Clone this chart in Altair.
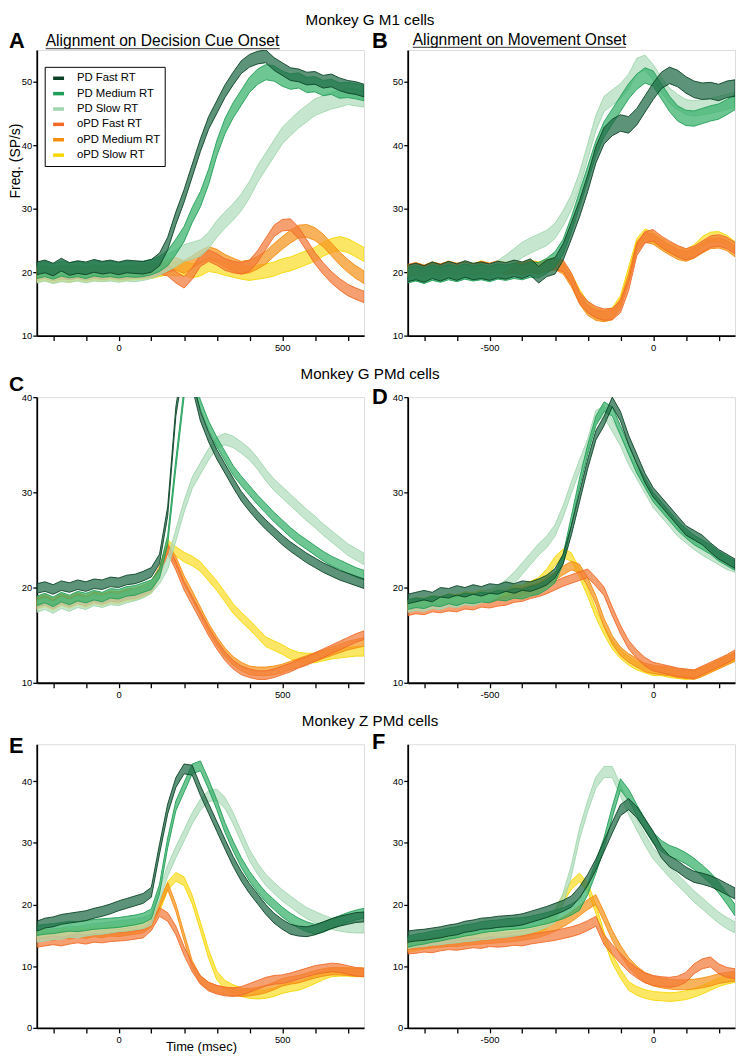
import altair as alt
import pandas as pd

FONT = "Liberation Sans"

SERIES = ["PD Fast RT", "PD Medium RT", "PD Slow RT", "oPD Fast RT", "oPD Medium RT", "oPD Slow RT"]
FILLS = ["#1e6b45", "#36b06a", "#b0dcbc", "#f27a3a", "#f7941d", "#fbdd2a"]
STROKES = ["#0b4226", "#1f9e57", "#9fd6ad", "#f26a25", "#f68c10", "#f5d800"]
DRAW_ORDER = [5, 4, 3, 2, 1, 0]

T_CUE = list(range(-250, 751, 25))
T_MOV = list(range(-750, 251, 25))

# ---------------- Panel A : Monkey G M1, cue aligned ----------------
A_PD_FAST = [20.6, 20.9, 20.4, 21.2, 20.5, 20.8, 20.6, 21.0, 20.7, 20.9, 20.6, 20.9, 20.8, 20.7, 21.0, 22.0, 24.5, 28.5, 32.0, 36.0, 40.0, 43.5, 46.0, 48.5, 50.5, 52.3, 53.3, 53.8, 54.0, 52.8, 52.0, 51.2, 51.0, 50.5, 50.6, 50.0, 50.2, 49.6, 49.2, 49.0, 48.6]
A_PD_MED = [20.2, 20.5, 20.1, 20.6, 20.3, 20.5, 20.2, 20.6, 20.4, 20.5, 20.3, 20.5, 20.4, 20.5, 20.8, 21.3, 22.2, 24.0, 26.0, 29.0, 31.5, 35.0, 39.5, 43.0, 45.5, 47.5, 49.5, 50.8, 51.5, 51.3, 50.5, 50.0, 50.2, 49.5, 49.6, 49.0, 49.2, 48.6, 48.7, 48.5, 48.2]
A_PD_SLOW = [19.6, 19.9, 19.5, 19.8, 19.7, 19.9, 19.6, 19.9, 19.8, 19.9, 19.7, 19.9, 19.8, 20.0, 20.3, 20.8, 21.5, 22.2, 23.0, 23.4, 23.8, 25.0, 26.8, 28.2, 29.5, 31.0, 33.0, 35.5, 37.5, 39.5, 41.5, 42.8, 44.0, 45.0, 46.0, 46.5, 47.0, 47.3, 47.7, 47.5, 47.3]
A_OPD_FAST = [19.9, 20.2, 19.8, 20.1, 19.7, 20.0, 19.8, 20.1, 19.9, 20.2, 19.9, 20.0, 20.1, 20.0, 20.3, 20.6, 20.3, 19.2, 18.4, 19.8, 21.8, 22.6, 22.0, 21.2, 20.8, 20.6, 21.0, 22.5, 24.5, 26.5, 27.4, 27.5, 26.2, 24.2, 22.2, 20.6, 19.2, 18.1, 17.2, 16.6, 16.1]
A_OPD_MED = [19.7, 20.0, 19.6, 19.9, 19.8, 20.0, 19.7, 20.0, 19.8, 20.0, 19.8, 19.9, 20.0, 20.1, 20.2, 20.5, 21.0, 21.3, 20.8, 21.6, 22.4, 23.0, 22.6, 21.8, 21.2, 20.7, 20.9, 21.5, 22.3, 23.5, 24.6, 25.6, 26.4, 26.5, 26.0, 25.0, 23.6, 22.2, 21.0, 20.0, 19.2]
A_OPD_SLOW = [19.5, 19.8, 19.4, 19.7, 19.5, 19.8, 19.6, 19.8, 19.7, 19.9, 19.7, 19.8, 19.9, 20.0, 20.1, 20.4, 20.7, 20.5, 20.6, 20.2, 20.5, 21.2, 21.0, 20.6, 20.3, 20.0, 19.8, 20.0, 20.2, 20.5, 21.0, 21.3, 21.8, 22.3, 22.8, 23.6, 24.2, 24.5, 24.2, 23.5, 22.8]
A_SEM = [1.0, 1.2, 1.3, 0.9, 1.0, 1.1]

# ---------------- Panel B : Monkey G M1, movement aligned ----------------
B_PD_FAST = [19.8, 20.1, 19.7, 20.3, 19.9, 20.4, 20.0, 20.5, 20.1, 20.3, 20.0, 20.4, 20.2, 20.6, 20.3, 20.8, 19.6, 20.6, 21.0, 23.2, 26.5, 30.0, 34.0, 38.5, 41.5, 42.8, 43.5, 43.2, 44.5, 46.5, 48.5, 50.2, 51.0, 50.5, 49.5, 48.8, 48.5, 48.6, 48.3, 48.8, 49.0]
B_PD_MED = [19.5, 19.8, 19.4, 19.9, 19.6, 20.0, 19.7, 20.1, 19.8, 20.0, 19.7, 20.1, 19.9, 20.2, 20.0, 20.4, 20.3, 21.0, 22.0, 24.0, 27.5, 31.5, 35.5, 39.5, 42.5, 44.5, 46.5, 48.5, 50.0, 51.0, 50.5, 48.5, 46.5, 45.0, 44.3, 44.2, 44.6, 45.0, 45.3, 46.0, 46.8]
B_PD_SLOW = [19.6, 19.9, 19.5, 20.0, 19.7, 20.1, 19.8, 20.2, 19.9, 20.1, 20.0, 20.6, 21.5, 22.5, 23.5, 24.2, 24.8, 25.4, 26.5, 28.5, 31.0, 34.5, 39.0, 43.5, 46.5, 47.5, 48.5, 50.0, 52.5, 53.0, 51.5, 49.5, 47.8, 46.8, 46.0, 45.8, 46.0, 46.2, 46.5, 46.8, 47.2]
B_OPD_FAST = [20.3, 20.6, 20.2, 20.7, 20.4, 20.8, 20.5, 20.7, 20.4, 20.8, 20.5, 20.9, 20.6, 20.8, 20.5, 20.9, 20.6, 21.0, 21.3, 21.0, 19.0, 16.0, 14.5, 13.7, 13.3, 13.4, 14.5, 18.0, 23.5, 25.5, 25.8, 24.8, 24.0, 23.3, 22.8, 23.2, 24.0, 24.8, 25.0, 24.6, 23.8]
B_OPD_MED = [20.1, 20.4, 20.0, 20.5, 20.2, 20.6, 20.3, 20.5, 20.2, 20.6, 20.3, 20.7, 20.4, 20.6, 20.3, 20.7, 20.5, 20.9, 21.2, 20.5, 18.5, 15.8, 14.0, 13.2, 13.0, 13.3, 15.0, 19.0, 24.0, 25.5, 25.2, 24.3, 23.5, 22.8, 22.5, 23.0, 23.8, 24.5, 24.6, 24.2, 23.2]
B_OPD_SLOW = [20.4, 20.7, 20.3, 20.8, 20.5, 20.9, 20.6, 20.8, 20.5, 21.0, 20.6, 21.0, 20.8, 21.0, 20.7, 21.1, 20.8, 21.2, 21.5, 20.8, 19.0, 16.5, 14.5, 13.5, 13.2, 13.6, 15.5, 20.0, 24.5, 26.0, 25.5, 24.6, 23.8, 23.2, 22.8, 23.5, 24.8, 25.5, 25.6, 25.0, 24.0]
B_SEM = [1.3, 1.2, 1.2, 0.9, 0.8, 0.8]

# ---------------- Panel C : Monkey G PMd, cue aligned ----------------
C_PD_FAST = [19.9, 20.1, 19.8, 20.2, 20.0, 20.3, 20.1, 20.4, 20.3, 20.6, 20.5, 20.8, 20.9, 21.2, 21.6, 23.0, 28.0, 38.5, 44.0, 41.5, 38.0, 35.8, 34.0, 32.5, 31.0, 29.6, 28.5, 27.5, 26.6, 25.8, 25.0, 24.3, 23.7, 23.1, 22.6, 22.1, 21.7, 21.3, 21.0, 20.7, 20.4]
C_PD_MED = [18.6, 18.9, 18.5, 19.0, 18.7, 19.1, 18.9, 19.2, 19.0, 19.4, 19.3, 19.6, 19.7, 20.0, 20.3, 21.5, 25.0, 33.0, 40.5, 42.0, 39.2, 37.0, 35.3, 33.8, 32.3, 31.2, 30.2, 29.2, 28.3, 27.4, 26.6, 25.8, 25.1, 24.5, 23.9, 23.3, 22.8, 22.4, 22.0, 21.6, 21.3]
C_PD_SLOW = [18.0, 18.3, 17.9, 18.4, 18.1, 18.5, 18.3, 18.7, 18.5, 18.8, 18.7, 19.0, 19.2, 19.5, 20.0, 21.0, 22.5, 25.5, 28.5, 31.0, 32.5, 34.0, 35.2, 35.6, 35.3, 34.7, 34.0, 33.0, 31.8, 30.8, 30.0, 29.2, 28.4, 27.6, 26.9, 26.1, 25.4, 24.7, 24.0, 23.5, 23.0]
C_OPD_FAST = [18.3, 18.6, 18.2, 18.7, 18.4, 18.8, 18.5, 18.9, 18.7, 19.0, 18.9, 19.2, 19.3, 19.6, 20.0, 21.5, 24.0, 22.3, 20.2, 18.6, 17.0, 15.4, 14.0, 12.8, 11.9, 11.3, 11.0, 10.8, 10.8, 11.0, 11.3, 11.6, 12.0, 12.3, 12.7, 13.1, 13.5, 13.9, 14.3, 14.7, 15.0]
C_OPD_MED = [18.5, 18.8, 18.4, 18.9, 18.6, 19.0, 18.7, 19.1, 18.9, 19.2, 19.1, 19.4, 19.5, 19.8, 20.2, 21.8, 24.2, 22.8, 20.8, 19.2, 17.5, 15.8, 14.4, 13.2, 12.3, 11.7, 11.3, 11.2, 11.2, 11.3, 11.5, 11.8, 12.1, 12.4, 12.7, 13.0, 13.3, 13.6, 13.9, 14.1, 14.3]
C_OPD_SLOW = [18.2, 18.5, 18.1, 18.6, 18.3, 18.7, 18.4, 18.8, 18.6, 18.9, 18.8, 19.1, 19.2, 19.5, 19.9, 21.5, 24.5, 23.8, 23.2, 22.8, 22.2, 21.2, 20.2, 19.0, 17.8, 16.9, 16.1, 15.2, 14.3, 13.9, 13.5, 13.0, 12.7, 12.6, 12.6, 12.8, 13.0, 13.1, 13.2, 13.3, 13.3]
C_SEM = [0.5, 0.5, 0.6, 0.45, 0.45, 0.5]

# ---------------- Panel D : Monkey G PMd, movement aligned ----------------
D_PD_FAST = [18.8, 19.0, 19.2, 19.0, 19.5, 19.4, 19.7, 19.5, 19.8, 19.6, 19.9, 19.8, 20.1, 19.9, 20.2, 20.1, 20.4, 20.8, 21.5, 23.0, 26.0, 29.5, 33.0, 36.0, 37.5, 39.5, 38.0, 35.5, 33.5, 31.5, 30.0, 29.0, 28.0, 27.0, 26.0, 25.5, 25.0, 24.2, 23.5, 23.0, 22.5]
D_PD_MED = [18.2, 18.4, 18.3, 18.6, 18.5, 18.8, 18.6, 18.9, 18.8, 19.0, 18.9, 19.2, 19.1, 19.4, 19.3, 19.6, 19.8, 20.3, 21.0, 23.0, 27.0, 31.0, 34.5, 37.5, 39.0, 38.5, 36.5, 34.5, 32.5, 31.0, 29.5, 28.5, 27.5, 26.5, 25.7, 25.0, 24.5, 24.0, 23.3, 22.8, 22.3]
D_PD_SLOW = [18.0, 18.2, 18.1, 18.4, 18.3, 18.6, 18.5, 18.8, 18.7, 19.0, 19.2, 19.6, 20.2, 21.0, 22.0, 23.0, 24.0, 24.8, 26.0, 28.0, 30.5, 32.8, 35.0, 38.0, 38.5, 37.0, 35.5, 33.5, 32.0, 30.5, 29.0, 28.0, 27.0, 26.0, 25.3, 24.6, 24.0, 23.5, 23.0, 22.5, 22.2]
D_OPD_FAST = [17.5, 17.7, 17.6, 17.9, 17.8, 18.0, 17.9, 18.2, 18.1, 18.4, 18.3, 18.5, 18.6, 18.9, 19.0, 19.3, 19.5, 19.8, 20.2, 20.6, 20.9, 21.2, 21.5, 20.6, 19.6, 17.5, 15.6, 14.0, 13.0, 12.2, 11.7, 11.5, 11.3, 11.1, 11.0, 10.9, 11.3, 11.7, 12.1, 12.5, 13.0]
D_OPD_MED = [18.0, 18.3, 18.2, 18.5, 18.4, 18.7, 18.6, 18.9, 18.8, 19.0, 19.0, 19.2, 19.3, 19.5, 19.5, 19.8, 20.0, 20.6, 21.2, 21.8, 22.3, 22.0, 20.6, 18.7, 16.3, 14.5, 13.3, 12.6, 12.1, 11.6, 11.4, 11.3, 11.2, 11.0, 10.9, 10.8, 11.1, 11.5, 11.9, 12.3, 12.7]
D_OPD_SLOW = [18.2, 18.5, 18.4, 18.7, 18.6, 18.9, 18.8, 19.1, 19.0, 19.3, 19.2, 19.5, 19.5, 19.8, 19.8, 20.2, 20.6, 21.5, 22.8, 23.6, 23.2, 21.5, 19.5, 17.3, 15.5, 14.0, 13.0, 12.3, 11.8, 11.5, 11.2, 11.2, 11.0, 10.9, 10.8, 10.9, 11.2, 11.6, 12.0, 12.4, 12.8]
D_SEM = [0.5, 0.5, 0.6, 0.45, 0.45, 0.45]

# ---------------- Panel E : Monkey Z PMd, cue aligned ----------------
E_PD_FAST = [16.5, 17.0, 17.2, 17.6, 17.8, 18.0, 18.2, 18.6, 18.9, 19.3, 19.8, 20.2, 20.6, 21.0, 22.0, 29.0, 35.5, 39.8, 42.0, 41.8, 38.5, 35.6, 32.7, 29.8, 27.0, 24.6, 22.6, 20.9, 19.2, 17.8, 16.8, 16.0, 15.7, 15.6, 15.9, 16.4, 16.9, 17.3, 17.6, 17.9, 18.0]
E_PD_MED = [15.8, 16.0, 16.1, 16.3, 16.5, 16.4, 16.6, 16.8, 16.9, 17.0, 17.1, 17.3, 17.5, 17.8, 18.5, 22.5, 30.0, 36.0, 39.0, 42.0, 42.5, 39.5, 36.2, 32.5, 29.5, 26.8, 24.6, 22.8, 21.2, 20.0, 18.8, 17.8, 17.0, 16.4, 16.0, 16.3, 16.9, 17.4, 17.9, 18.3, 18.6]
E_PD_SLOW = [14.8, 15.0, 15.2, 15.3, 15.6, 15.5, 15.8, 16.0, 16.1, 16.3, 16.5, 16.6, 16.8, 17.0, 17.6, 21.5, 25.5, 28.5, 31.2, 34.0, 36.2, 37.6, 37.8, 36.5, 34.0, 31.0, 28.0, 25.8, 24.0, 22.7, 21.5, 20.5, 19.5, 18.6, 18.0, 17.4, 16.9, 16.6, 16.4, 16.3, 16.3]
E_OPD_FAST = [13.8, 14.0, 14.2, 14.0, 14.3, 14.5, 14.3, 14.6, 14.5, 14.7, 14.8, 14.9, 15.1, 15.3, 16.5, 18.8, 18.0, 15.8, 12.5, 9.8, 7.8, 6.7, 6.2, 5.9, 5.8, 6.0, 6.5, 7.0, 7.5, 7.8, 7.9, 8.2, 8.6, 9.0, 9.4, 9.6, 9.8, 9.7, 9.4, 9.1, 9.0]
E_OPD_MED = [14.8, 15.0, 14.7, 15.2, 15.0, 15.3, 15.1, 15.4, 15.2, 15.5, 15.4, 15.6, 15.8, 16.0, 17.0, 20.0, 23.0, 19.5, 14.8, 10.3, 7.8, 6.8, 6.3, 6.0, 5.8, 5.7, 5.8, 6.0, 6.3, 6.8, 7.4, 7.7, 7.9, 8.3, 8.7, 9.0, 9.2, 9.2, 9.1, 9.0, 9.0]
E_OPD_SLOW = [15.0, 15.3, 15.1, 15.5, 15.3, 15.6, 15.4, 15.7, 15.6, 15.9, 15.8, 16.0, 16.2, 16.5, 17.0, 19.5, 23.0, 24.5, 23.8, 20.8, 16.5, 12.0, 8.5, 7.0, 6.3, 5.8, 5.5, 5.4, 5.5, 5.8, 6.3, 6.6, 6.8, 7.3, 7.9, 8.5, 9.0, 9.1, 9.1, 9.0, 9.0]
E_SEM = [0.8, 0.8, 0.9, 0.7, 0.6, 0.7]

# ---------------- Panel F : Monkey Z PMd, movement aligned ----------------
F_PD_FAST = [14.8, 15.0, 15.1, 15.3, 15.5, 15.8, 16.0, 16.4, 16.6, 16.9, 17.0, 17.2, 17.3, 17.4, 17.6, 18.0, 18.4, 18.8, 19.3, 19.8, 20.5, 22.0, 24.0, 26.5, 29.5, 32.5, 35.3, 36.3, 35.0, 33.0, 31.0, 28.5, 27.0, 26.2, 25.2, 24.5, 24.2, 23.8, 23.2, 22.5, 21.8]
F_PD_MED = [14.0, 14.3, 14.5, 14.8, 15.0, 15.3, 15.5, 15.8, 16.0, 16.3, 16.5, 16.6, 16.8, 16.9, 17.0, 17.2, 17.5, 17.8, 18.2, 18.6, 19.2, 20.0, 22.5, 26.0, 30.0, 35.0, 39.5, 37.8, 35.3, 33.0, 30.8, 29.5, 28.7, 28.2, 27.5, 26.6, 25.5, 24.3, 22.8, 21.0, 19.1]
F_PD_SLOW = [13.8, 14.0, 14.1, 14.3, 14.4, 14.6, 14.7, 14.9, 15.0, 15.2, 15.3, 15.5, 15.6, 15.8, 16.0, 16.3, 16.7, 17.2, 18.0, 21.0, 25.5, 31.5, 36.0, 39.8, 41.5, 41.5, 38.5, 35.5, 33.0, 30.5, 28.3, 26.8, 25.3, 24.0, 22.7, 21.3, 20.2, 19.0, 17.9, 17.0, 16.3]
F_OPD_FAST = [12.8, 12.9, 13.1, 13.0, 13.3, 13.5, 13.4, 13.6, 13.8, 13.7, 14.0, 13.9, 14.0, 14.2, 14.1, 14.4, 14.6, 14.8, 15.0, 15.3, 15.6, 16.0, 16.6, 17.3, 14.3, 12.7, 11.3, 9.9, 8.9, 8.1, 7.7, 7.5, 7.4, 7.6, 8.2, 9.6, 10.4, 10.7, 9.6, 9.0, 8.8]
F_OPD_MED = [13.5, 13.6, 13.7, 13.8, 13.9, 14.0, 14.0, 14.2, 14.3, 14.4, 14.5, 14.6, 14.7, 14.8, 15.0, 15.2, 15.5, 15.9, 16.5, 17.2, 18.0, 19.0, 20.0, 20.8, 18.0, 15.0, 12.6, 10.6, 9.2, 8.2, 7.6, 7.3, 7.1, 7.0, 7.0, 7.1, 7.3, 7.6, 8.0, 8.2, 8.4]
F_OPD_SLOW = [13.0, 13.2, 13.5, 13.7, 13.9, 14.0, 14.2, 14.4, 14.6, 14.8, 15.0, 15.1, 15.3, 15.4, 15.5, 15.7, 16.0, 16.8, 18.5, 21.0, 23.2, 24.4, 22.8, 19.3, 14.8, 11.2, 8.8, 6.8, 6.0, 5.5, 5.2, 5.1, 5.0, 5.1, 5.3, 5.7, 6.2, 6.8, 7.4, 7.8, 8.1]
F_SEM = [0.9, 0.9, 0.9, 0.8, 0.8, 0.7]

X_TICKS_CUE = list(range(-200, 701, 100))
X_TICKS_MOV = list(range(-700, 201, 100))
LAB_CUE = "datum.value == 0 ? '0' : datum.value == 500 ? '500' : ''"
LAB_MOV = "datum.value == -500 ? '-500' : datum.value == 0 ? '0' : ''"

PANEL_W = 330


def build(times, vals, sems):
    rows = []
    for k in DRAW_ORDER:
        for t, m in zip(times, vals[k]):
            rows.append({"t": t, "lo": round(m - sems[k], 2), "hi": round(m + sems[k], 2), "series": SERIES[k]})
    return pd.DataFrame(rows)


def txt(s, x, y, size, weight="normal", align="left", baseline="middle", angle=0):
    return alt.Chart(pd.DataFrame({"s": [s]})).mark_text(
        align=align, baseline=baseline, fontSize=size, fontWeight=weight,
        font=FONT, color="black", angle=angle
    ).encode(text="s:N", x=alt.value(x), y=alt.value(y))


def uline(x1, x2, y):
    return alt.Chart(pd.DataFrame({"a": [0]})).mark_rule(color="#333333", strokeWidth=1).encode(
        x=alt.value(x1), x2=alt.value(x2), y=alt.value(y))


def make_legend():
    return alt.Legend(orient="none", legendX=8, legendY=17, title=None,
                      symbolType="stroke", symbolSize=121, symbolStrokeWidth=3.5,
                      labelFontSize=11.4, labelFont=FONT, labelColor="black",
                      labelOffset=11, padding=4, symbolOffset=2.5, rowPadding=0.5,
                      strokeColor="black", fillColor="white")


def panel(df, xdom, xvals, xlab, ydom, yvals, h, extras, legend=False):
    leg = make_legend() if legend else None
    band = alt.Chart(df).mark_area(clip=True, strokeWidth=0.9, fillOpacity=0.72).encode(
        x=alt.X("t:Q", scale=alt.Scale(domain=xdom, nice=False, zero=False),
                axis=alt.Axis(values=xvals, labelExpr=xlab, title=None, grid=False,
                              tickSize=5, tickWidth=1.3, tickColor="black",
                              domainColor="black", domainWidth=1.8,
                              labelFontSize=9.5, labelFont=FONT, labelColor="black",
                              labelPadding=2, labelFlush=False, labelOverlap=False)),
        y=alt.Y("lo:Q", scale=alt.Scale(domain=ydom, nice=False, zero=False),
                axis=alt.Axis(values=yvals, title=None, grid=False,
                              tickSize=4, tickWidth=1.3, tickColor="black",
                              domainColor="black", domainWidth=1.8,
                              labelFontSize=9.5, labelFont=FONT, labelColor="black",
                              labelPadding=1, labelFlush=False)),
        y2="hi:Q",
        fill=alt.Fill("series:N", scale=alt.Scale(domain=SERIES, range=FILLS), legend=leg),
        stroke=alt.Stroke("series:N", scale=alt.Scale(domain=SERIES, range=STROKES), legend=leg),
    )
    return alt.layer(band, *extras).properties(width=PANEL_W, height=h)


dfA = build(T_CUE, [A_PD_FAST, A_PD_MED, A_PD_SLOW, A_OPD_FAST, A_OPD_MED, A_OPD_SLOW], A_SEM)
dfB = build(T_MOV, [B_PD_FAST, B_PD_MED, B_PD_SLOW, B_OPD_FAST, B_OPD_MED, B_OPD_SLOW], B_SEM)
dfC = build(T_CUE, [C_PD_FAST, C_PD_MED, C_PD_SLOW, C_OPD_FAST, C_OPD_MED, C_OPD_SLOW], C_SEM)
dfD = build(T_MOV, [D_PD_FAST, D_PD_MED, D_PD_SLOW, D_OPD_FAST, D_OPD_MED, D_OPD_SLOW], D_SEM)
dfE = build(T_CUE, [E_PD_FAST, E_PD_MED, E_PD_SLOW, E_OPD_FAST, E_OPD_MED, E_OPD_SLOW], E_SEM)
dfF = build(T_MOV, [F_PD_FAST, F_PD_MED, F_PD_SLOW, F_OPD_FAST, F_OPD_MED, F_OPD_SLOW], F_SEM)

pA = panel(dfA, [-250, 750], X_TICKS_CUE, LAB_CUE, [10, 55], [10, 20, 30, 40, 50], 288, [
    txt("Monkey G M1 cells", 336, -37, 15.3, align="center", baseline="top"),
    txt("A", -28, -9, 22, weight="bold"),
    txt("Alignment on Decision Cue Onset", 9, -3.7, 15.7, baseline="alphabetic"),
    uline(9, 245, -1.3),
    txt("Freq. (SP/s)", -21, 112, 14, align="center", angle=270),
], legend=True)
pB = panel(dfB, [-750, 250], X_TICKS_MOV, LAB_MOV, [10, 55], [10, 20, 30, 40, 50], 288, [
    txt("B", -36, -9.5, 22, weight="bold"),
    txt("Alignment on Movement Onset", 5, -4.7, 15.7, baseline="alphabetic"),
    uline(5, 220, -2.7),
])
pC = panel(dfC, [-250, 750], X_TICKS_CUE, LAB_CUE, [10, 40], [10, 20, 30, 40], 288, [
    txt("Monkey G PMd cells", 336, -30, 15.3, align="center", baseline="top"),
    txt("C", -28, -12, 21, weight="bold"),
])
pD = panel(dfD, [-750, 250], X_TICKS_MOV, LAB_MOV, [10, 40], [10, 20, 30, 40], 288, [
    txt("D", -36, 0, 22, weight="bold"),
])
pE = panel(dfE, [-250, 750], X_TICKS_CUE, LAB_CUE, [0, 46], [0, 10, 20, 30, 40], 286, [
    txt("Monkey Z PMd cells", 336, -30, 15.3, align="center", baseline="top"),
    txt("E", -28, 2, 22, weight="bold"),
    txt("Time (msec)", 166, 305, 13, align="center"),
])
pF = panel(dfF, [-750, 250], X_TICKS_MOV, LAB_MOV, [0, 46], [0, 10, 20, 30, 40], 286, [
    txt("F", -36, -2, 22, weight="bold"),
])

chart = alt.concat(pA, pB, pC, pD, pE, pF, columns=2, spacing={"row": 62, "column": 44},
                   bounds="flush").resolve_scale(
    fill="independent", stroke="independent").resolve_legend(
    fill="independent", stroke="independent").properties(
    padding=0, background="white").configure_view(stroke=None).configure(font=FONT)

chart.save("out.html", embed_options={"renderer": "svg", "actions": False})
